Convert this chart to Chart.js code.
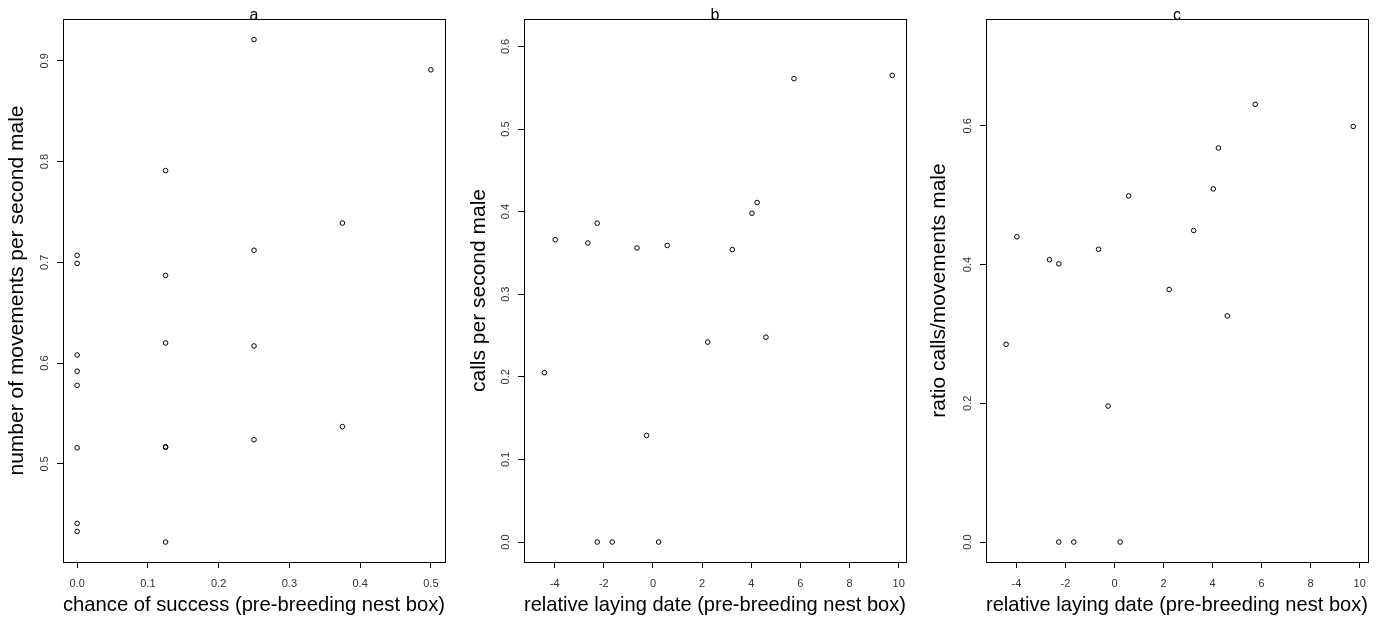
<!DOCTYPE html>
<html>
<head>
<meta charset="utf-8">
<title>Pre-breeding nest box scatter plots</title>
<script src="https://cdn.jsdelivr.net/npm/chart.js@4/dist/chart.umd.min.js"></script>
<style>
    body { margin: 0; background: #fff; }
    #page { position: relative; width: 1392px; height: 623px; overflow: hidden; }
    .panel { position: absolute; top: 0; }
</style>
</head>
<body>
<div id="page">
    <canvas id="chartA" class="panel" width="455" height="623" style="left:0px"></canvas>
    <canvas id="chartB" class="panel" width="455" height="623" style="left:462px"></canvas>
    <canvas id="chartC" class="panel" width="470" height="623" style="left:922px"></canvas>
</div>
<script>
// panel a: chance of success vs movements
const successChance = [0, 0, 0, 0, 0, 0, 0, 0, 0.125, 0.125, 0.125, 0.125, 0.125, 0.125, 0.25, 0.25, 0.25, 0.25, 0.375, 0.375, 0.5];
const movementsPerSec = [0.707, 0.699, 0.608, 0.592, 0.578, 0.516, 0.441, 0.433, 0.791, 0.687, 0.620, 0.517, 0.5165, 0.4225, 0.921, 0.712, 0.617, 0.524, 0.739, 0.537, 0.891];

// panels b and c: relative laying date
const layingDate = [-4.42, -3.98, -2.65, -2.27, -2.27, -1.66, -0.65, -0.26, 0.23, 0.58, 2.23, 3.23, 4.03, 4.24, 4.6, 5.74, 9.74];
const callsPerSec = [0.205, 0.366, 0.362, 0.386, 0, 0, 0.356, 0.129, 0, 0.359, 0.242, 0.354, 0.398, 0.411, 0.248, 0.561, 0.565];
const callMoveRatio = [0.285, 0.440, 0.407, 0.401, 0, 0, 0.422, 0.196, 0, 0.499, 0.364, 0.449, 0.509, 0.568, 0.326, 0.631, 0.599];

// tick labels
const ticksSuccess = [0, 0.1, 0.2, 0.3, 0.4, 0.5];
const ticksMovements = [0.5, 0.6, 0.7, 0.8, 0.9];
const ticksDate = [-4, -2, 0, 2, 4, 6, 8, 10];
const ticksCalls = [0, 0.1, 0.2, 0.3, 0.4, 0.5, 0.6];
const ticksRatio = [0, 0.2, 0.4, 0.6];

const FONT = "'Liberation Sans', Arial, Helvetica, sans-serif";

// draws the box round the plot region and the panel letter
const boxPlugin = {
    id: 'rbox',
    afterDraw(chart, args, opts) {
        const ctx = chart.ctx;
        const a = chart.chartArea;
        ctx.save();
        ctx.strokeStyle = '#000';
        ctx.lineWidth = 1;
        ctx.strokeRect(Math.round(a.left) + 0.5, Math.round(a.top) + 0.5,
            Math.round(a.right - a.left), Math.round(a.bottom - a.top));
        ctx.fillStyle = '#000';
        ctx.font = '16px ' + FONT;
        ctx.textAlign = 'center';
        ctx.textBaseline = 'alphabetic';
        ctx.fillText(opts.letter, (a.left + a.right) / 2, a.top + 0.5);
        ctx.restore();
    }
};

function makeTicks(values) {
    return function (scale) {
        scale.ticks = values.map(v => ({ value: v }));
    };
}

function makePanel(id, opts) {
    const points = opts.x.map((x, i) => ({ x: x, y: opts.y[i] }));
    return new Chart(document.getElementById(id), {
        type: 'scatter',
        data: {
            datasets: [{
                data: points,
                pointStyle: 'circle',
                pointRadius: 2.3,
                pointBorderWidth: 1,
                pointBorderColor: '#000',
                pointBackgroundColor: 'rgba(0,0,0,0)'
            }]
        },
        plugins: [boxPlugin],
        options: {
            responsive: false,
            animation: false,
            devicePixelRatio: 1,
            layout: { padding: { left: 0, right: opts.padRight, top: 19, bottom: 0 } },
            plugins: {
                legend: { display: false },
                tooltip: { enabled: false },
                rbox: { letter: opts.letter }
            },
            scales: {
                x: {
                    type: 'linear',
                    min: opts.xMin,
                    max: opts.xMax,
                    afterBuildTicks: makeTicks(opts.xTicks),
                    afterFit: scale => { scale.height = 61; },
                    border: { display: false },
                    grid: { drawOnChartArea: false, drawTicks: true, tickLength: 6, color: '#000' },
                    ticks: {
                        autoSkip: false,
                        maxRotation: 0,
                        padding: 9,
                        color: '#333',
                        font: { family: FONT, size: 11 },
                        callback: opts.xFormat
                    },
                    title: {
                        display: true,
                        text: opts.xTitle,
                        color: '#000',
                        font: { family: FONT, size: 21 },
                        padding: { top: 0, bottom: 5 }
                    }
                },
                y: {
                    type: 'linear',
                    min: opts.yMin,
                    max: opts.yMax,
                    afterBuildTicks: makeTicks(opts.yTicks),
                    afterFit: scale => { scale.width = opts.yWidth; },
                    border: { display: false },
                    grid: { drawOnChartArea: false, drawTicks: true, tickLength: 6, color: '#000' },
                    ticks: {
                        autoSkip: false,
                        minRotation: 90,
                        maxRotation: 90,
                        crossAlign: 'center',
                        padding: 4,
                        color: '#333',
                        font: { family: FONT, size: 11 },
                        callback: v => v.toFixed(1)
                    },
                    title: {
                        display: true,
                        text: opts.yTitle,
                        color: '#000',
                        font: { family: FONT, size: 21 },
                        padding: { top: 4.5, bottom: 0 }
                    }
                }
            }
        }
    });
}

makePanel('chartA', {
    letter: 'a',
    x: successChance, y: movementsPerSec,
    xMin: -0.02, xMax: 0.52, yMin: 0.4027, yMax: 0.9414,
    xTicks: ticksSuccess, yTicks: ticksMovements,
    xFormat: v => v.toFixed(1),
    xTitle: 'chance of success (pre-breeding nest box)',
    yTitle: 'number of movements per second male',
    yWidth: 63, padRight: 10
});

makePanel('chartB', {
    letter: 'b',
    x: layingDate, y: callsPerSec,
    xMin: -5.25, xMax: 10.3, yMin: -0.0242, yMax: 0.6332,
    xTicks: ticksDate, yTicks: ticksCalls,
    xFormat: v => String(v),
    xTitle: 'relative laying date (pre-breeding nest box)',
    yTitle: 'calls per second male',
    yWidth: 62, padRight: 11
});

makePanel('chartC', {
    letter: 'c',
    x: layingDate, y: callMoveRatio,
    xMin: -5.24, xMax: 10.34, yMin: -0.0288, yMax: 0.7539,
    xTicks: ticksDate, yTicks: ticksRatio,
    xFormat: v => String(v),
    xTitle: 'relative laying date (pre-breeding nest box)',
    yTitle: 'ratio calls/movements male',
    yWidth: 64, padRight: 24
});
</script>
</body>
</html>
